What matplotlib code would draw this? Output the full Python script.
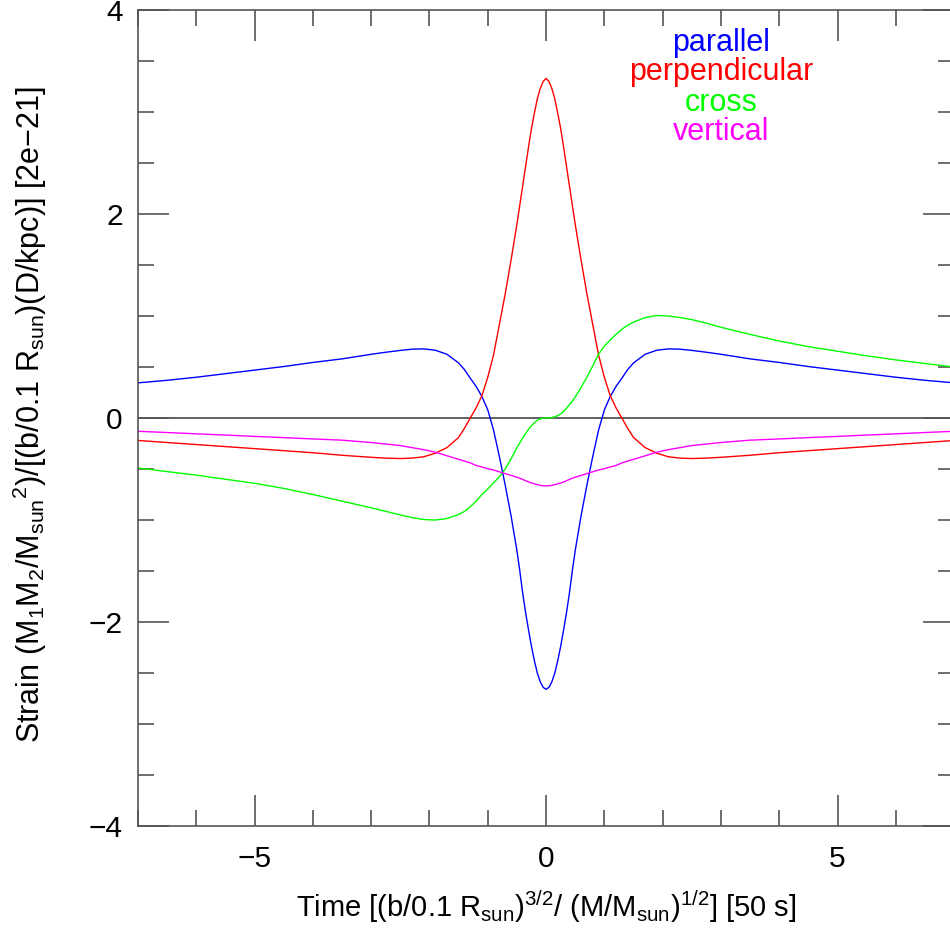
import numpy as np
import matplotlib
matplotlib.use('Agg')
import matplotlib.pyplot as plt
from matplotlib.ticker import MultipleLocator

plt.rcParams['font.family'] = ['Liberation Sans', 'DejaVu Sans']
plt.rcParams['mathtext.fontset'] = 'custom'
plt.rcParams['mathtext.rm'] = 'Liberation Sans'
plt.rcParams['mathtext.default'] = 'regular'

# time samples
time = [-7, -6.5, -6, -5.5, -5, -4.5, -4, -3.5, -3, -2.75, -2.5, -2.3, -2.1, -1.9, -1.7,
        -1.5, -1.4, -1.3, -1.2, -1.1, -1.0, -0.9, -0.8, -0.7, -0.6, -0.5, -0.45, -0.4,
        -0.35, -0.3, -0.25, -0.2, -0.15, -0.1, -0.05, 0,
        0.05, 0.1, 0.15, 0.2, 0.25, 0.3, 0.35, 0.4, 0.45, 0.5, 0.6, 0.7, 0.8, 0.9, 1.0,
        1.1, 1.2, 1.3, 1.4, 1.5, 1.7, 1.9, 2.1, 2.3, 2.5, 2.75, 3, 3.5, 4, 4.5, 5, 5.5,
        6, 6.5, 7]

parallel = [0.345, 0.37, 0.40, 0.435, 0.47, 0.505, 0.545, 0.58, 0.625, 0.645, 0.663, 0.675,
            0.678, 0.665, 0.625, 0.54, 0.475, 0.39, 0.31, 0.21, 0.08, -0.12, -0.38, -0.66,
            -0.96, -1.30, -1.50, -1.72, -1.91, -2.08, -2.24, -2.38, -2.50, -2.585, -2.64,
            -2.66,
            -2.64, -2.585, -2.50, -2.38, -2.24, -2.08, -1.91, -1.72, -1.50, -1.30, -0.96,
            -0.66, -0.38, -0.12, 0.08, 0.21, 0.31, 0.39, 0.475, 0.54, 0.625, 0.665, 0.678,
            0.675, 0.663, 0.645, 0.625, 0.58, 0.545, 0.505, 0.47, 0.435, 0.40, 0.37, 0.345]

perpendicular = [-0.22, -0.24, -0.26, -0.28, -0.30, -0.32, -0.34, -0.365, -0.385, -0.393,
                 -0.397, -0.393, -0.38, -0.345, -0.29, -0.19, -0.10, 0.0, 0.10, 0.22, 0.40,
                 0.62, 0.92, 1.22, 1.55, 1.90, 2.09, 2.28, 2.47, 2.66, 2.84, 2.99, 3.13, 3.23,
                 3.30, 3.33,
                 3.30, 3.23, 3.13, 2.99, 2.84, 2.66, 2.47, 2.28, 2.09, 1.90, 1.55, 1.22, 0.92,
                 0.62, 0.40, 0.22, 0.10, 0.0, -0.10, -0.19, -0.29, -0.345, -0.38, -0.393,
                 -0.397, -0.393, -0.385, -0.365, -0.34, -0.32, -0.30, -0.28, -0.26, -0.24,
                 -0.22]

cross = [-0.49, -0.525, -0.56, -0.60, -0.64, -0.69, -0.75, -0.815, -0.88, -0.915, -0.95,
         -0.975, -0.995, -1.0, -0.985, -0.945, -0.915, -0.87, -0.815, -0.75, -0.695, -0.635,
         -0.575, -0.50, -0.40, -0.29, -0.243, -0.195, -0.15, -0.11, -0.075, -0.045, -0.022,
         -0.008, -0.001, 0.0,
         0.001, 0.005, 0.012, 0.024, 0.04, 0.065, 0.095, 0.13, 0.165, 0.205, 0.30, 0.40,
         0.51, 0.625, 0.705, 0.765, 0.82, 0.87, 0.91, 0.94, 0.985, 1.005, 1.0, 0.985, 0.965,
         0.93, 0.89, 0.82, 0.755, 0.70, 0.655, 0.61, 0.57, 0.535, 0.50]

vertical = [-0.13, -0.142, -0.155, -0.167, -0.18, -0.192, -0.205, -0.217, -0.24, -0.255,
            -0.27, -0.29, -0.31, -0.335, -0.37, -0.405, -0.422, -0.44, -0.465, -0.48, -0.497,
            -0.51, -0.527, -0.545, -0.563, -0.58, -0.59, -0.602, -0.615, -0.627, -0.637,
            -0.645, -0.653, -0.66, -0.664, -0.665,
            -0.664, -0.66, -0.653, -0.645, -0.637, -0.627, -0.615, -0.602, -0.59, -0.58,
            -0.563, -0.545, -0.527, -0.51, -0.497, -0.48, -0.465, -0.44, -0.422, -0.405,
            -0.37, -0.335, -0.31, -0.29, -0.27, -0.255, -0.24, -0.217, -0.205, -0.192, -0.18,
            -0.167, -0.155, -0.142, -0.13]

series = [('parallel', parallel, '#0000ff'),
          ('perpendicular', perpendicular, '#ff0000'),
          ('cross', cross, '#00ff00'),
          ('vertical', vertical, '#ff00ff')]

fig = plt.figure(figsize=(9.5, 9.3), dpi=100)
ax = fig.add_axes([0.1453, 0.1118, 0.859, 0.8774])

ax.axhline(0, color='#555555', lw=1.3, zorder=1)
for name, values, color in series:
    ax.plot(time, values, color=color, lw=1.0, zorder=2)

label_y = [3.68, 3.39, 3.09, 2.80]
for (name, values, color), ly in zip(series, label_y):
    ax.text(3.0, ly, name, color=color, fontsize=22, ha='center', va='center')

ax.set_xlim(-7, 7)
ax.set_ylim(-4, 4)
ax.xaxis.set_major_locator(MultipleLocator(5))
ax.xaxis.set_minor_locator(MultipleLocator(1))
ax.yaxis.set_major_locator(MultipleLocator(2))
ax.yaxis.set_minor_locator(MultipleLocator(0.5))
ax.tick_params(which='both', direction='in', top=True, right=True, color='#555555', width=1.2)
ax.tick_params(which='major', length=22, labelsize=21.5)
ax.tick_params(which='minor', length=11.5)
ax.tick_params(axis='x', which='major', pad=14)
ax.tick_params(axis='y', which='major', pad=11)
for spine in ax.spines.values():
    spine.set_color('#555555')
    spine.set_linewidth(1.2)

ax.set_xlabel(r'Time [(b/0.1 R$_{sun}$)$^{3/2}$/ (M/M$_{sun}$)$^{1/2}$] [50 s]', fontsize=21)
ax.xaxis.set_label_coords(0.5, -0.076)
ax.set_ylabel(r'Strain (M$_1$M$_2$/M$_{sun}$$^{2}$)/[(b/0.1 R$_{sun}$)(D/kpc)] [2e−21]',
              fontsize=22)
ax.yaxis.set_label_coords(-0.109, 0.504)

fig.savefig('out.png', dpi=100)
